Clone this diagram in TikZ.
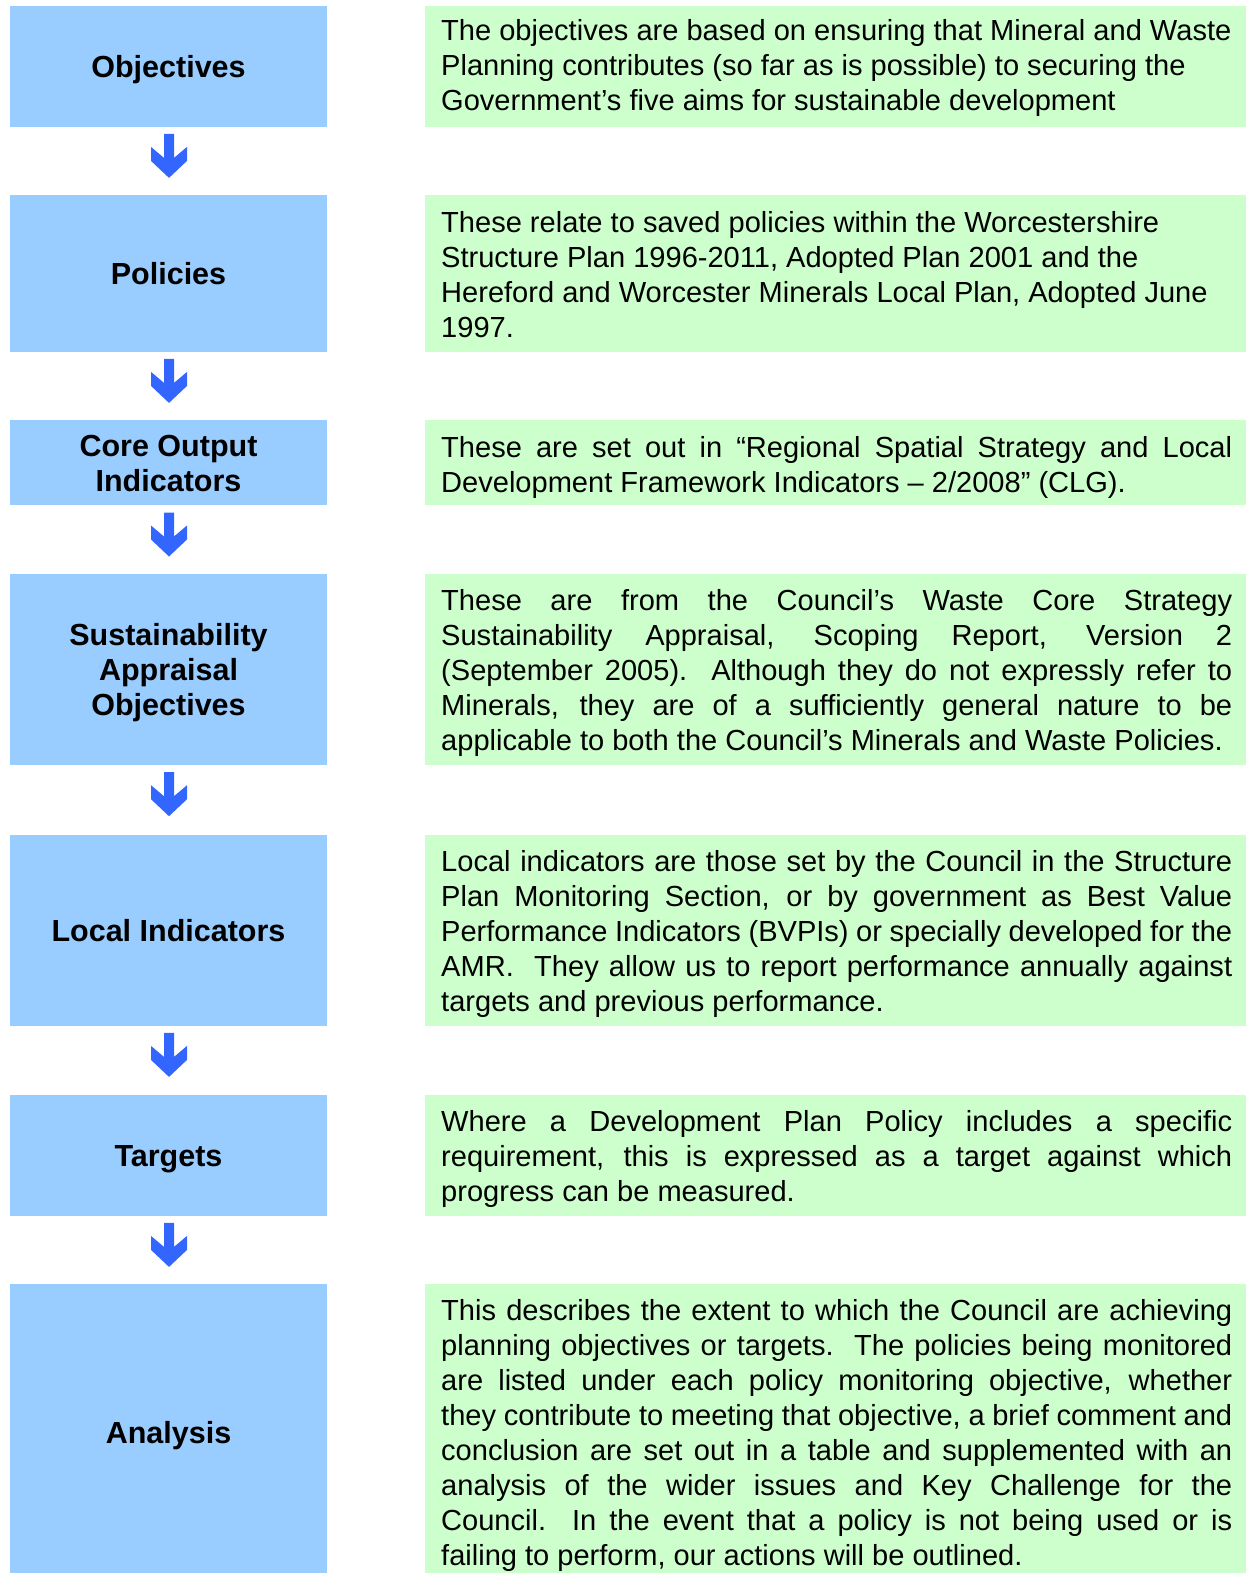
\documentclass[tikz,border=0pt]{standalone}
\usepackage{fontspec}
\setmainfont{Liberation Sans}
\usetikzlibrary{calc}
\definecolor{boxblue}{HTML}{99CCFF}
\definecolor{boxgreen}{HTML}{CCFFCC}
\definecolor{arrowblue}{HTML}{3366FF}
\newcommand{\jl}[1]{\makebox[791pt][s]{#1}}
\newcommand{\fr}{\rule{0pt}{21.8pt}}
\tikzset{
  bluebox/.style={fill=boxblue, draw=none, inner sep=0pt, minimum width=316.5pt},
  greenbox/.style={fill=boxgreen, draw=none, inner sep=0pt, minimum width=821pt},
  labeltext/.style={anchor=north, inner sep=0pt, align=center, font=\fontsize{30.5}{35}\selectfont\bfseries},
  bodytext/.style={anchor=north west, inner sep=0pt, align=left, font=\fontsize{29.05}{35}\selectfont},
  arrowfill/.style={fill=arrowblue, draw=none}
}
\newcommand{\blockarrow}[1]{%
  \fill[arrowfill, shift={($(#1.south)+(0.75,7)$)}] (-5,0) -- (5,0) -- (5,24) -- (18,13) -- (18,27) -- (0,44) -- (-18,27) -- (-18,13) -- (-5,24) -- cycle;}
\begin{document}
\begin{tikzpicture}[x=1pt,y=-1pt]
\useasboundingbox (0,0) rectangle (1247,1573);
% blue boxes
\node[bluebox, minimum height=120.7pt] (b1) at (168.25,66.35) {};
\node[bluebox, minimum height=156.7pt] (b2) at (168.25,273.35) {};
\node[bluebox, minimum height=85.3pt] (b3) at (168.25,462.65) {};
\node[bluebox, minimum height=191pt] (b4) at (168.25,669.5) {};
\node[bluebox, minimum height=191pt] (b5) at (168.25,930.2) {};
\node[bluebox, minimum height=121pt] (b6) at (168.25,1155.2) {};
\node[bluebox, minimum height=289pt] (b7) at (168.25,1428.5) {};
% green boxes
\node[greenbox, minimum height=120.7pt] (g1) at (835.5,66.35) {};
\node[greenbox, minimum height=156.7pt] (g2) at (835.5,273.35) {};
\node[greenbox, minimum height=85.3pt] (g3) at (835.5,462.65) {};
\node[greenbox, minimum height=191pt] (g4) at (835.5,669.5) {};
\node[greenbox, minimum height=191pt] (g5) at (835.5,930.2) {};
\node[greenbox, minimum height=121pt] (g6) at (835.5,1155.2) {};
\node[greenbox, minimum height=289pt] (g7) at (835.5,1428.5) {};
% arrows
\blockarrow{b1}
\blockarrow{b2}
\blockarrow{b3}
\blockarrow{b4}
\blockarrow{b5}
\blockarrow{b6}
% labels
\node[labeltext] (l1) at (168.5,55.45) {\fr Objectives};
\node[labeltext] (l2) at (168.5,262.45) {\fr Policies};
\node[labeltext] (l3) at (168.5,434.25) {\fr Core Output\\Indicators};
\node[labeltext] (l4) at (168.5,623.6) {\fr Sustainability\\Appraisal\\Objectives};
\node[labeltext] (l5) at (168.5,919.3) {\fr Local Indicators};
\node[labeltext] (l6) at (168.5,1144.3) {\fr Targets};
\node[labeltext] (l7) at (168.5,1421) {\fr Analysis};
% body texts
\node[bodytext] (t1) at (441,18.5) {\fr The objectives are based on ensuring that Mineral and Waste\\
Planning contributes (so far as is possible) to securing the\\
Government’s five aims for sustainable development};
\node[bodytext] (t2) at (441,210) {\fr These relate to saved policies within the Worcestershire\\
Structure Plan 1996-2011, Adopted Plan 2001 and the\\
Hereford and Worcester Minerals Local Plan, Adopted June\\
1997.};
\node[bodytext] (t3) at (441,435) {\fr\jl{These are set out in “Regional Spatial Strategy and Local}\\
Development Framework Indicators – 2/2008” (CLG).};
\node[bodytext] (t4) at (441,588.5) {\fr\jl{These are from the Council’s Waste Core Strategy}\\
\jl{Sustainability Appraisal, Scoping Report, Version 2}\\
\jl{(September 2005).\ \ Although they do not expressly refer to}\\
\jl{Minerals, they are of a sufficiently general nature to be}\\
applicable to both the Council’s Minerals and Waste Policies.};
\node[bodytext] (t5) at (441,849) {\fr\jl{Local indicators are those set by the Council in the Structure}\\
\jl{Plan Monitoring Section, or by government as Best Value}\\
\jl{Performance Indicators (BVPIs) or specially developed for the}\\
\jl{AMR.\ \ They allow us to report performance annually against}\\
targets and previous performance.};
\node[bodytext] (t6) at (441,1109) {\fr\jl{Where a Development Plan Policy includes a specific}\\
\jl{requirement, this is expressed as a target against which}\\
progress can be measured.};
\node[bodytext] (t7) at (441,1298.5) {\fr\jl{This describes the extent to which the Council are achieving}\\
\jl{planning objectives or targets.\ \ The policies being monitored}\\
\jl{are listed under each policy monitoring objective, whether}\\
\jl{they contribute to meeting that objective, a brief comment and}\\
\jl{conclusion are set out in a table and supplemented with an}\\
\jl{analysis of the wider issues and Key Challenge for the}\\
\jl{Council.\ \ In the event that a policy is not being used or is}\\
failing to perform, our actions will be outlined.};
\end{tikzpicture}
\end{document}
